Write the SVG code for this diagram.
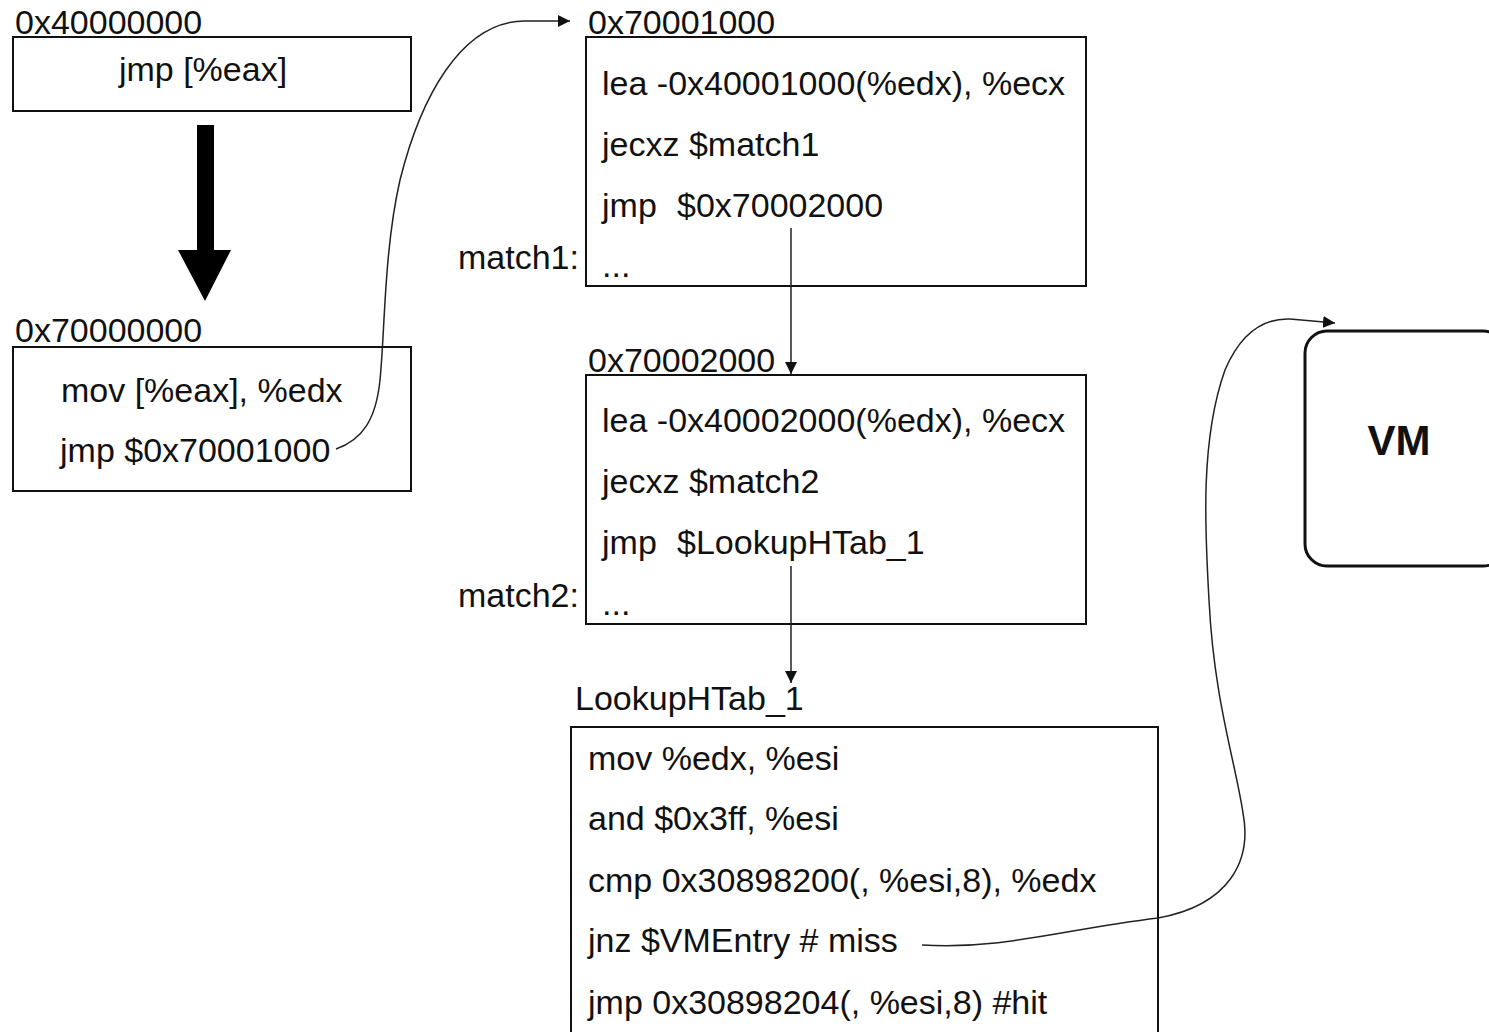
<svg xmlns="http://www.w3.org/2000/svg" width="1489" height="1032" viewBox="0 0 1489 1032">
<defs>
<style>
.box{fill:#fff;stroke:#111;stroke-width:2}
.t{font-family:"Liberation Sans",Arial,sans-serif;font-size:34px;fill:#111}
.vm{font-family:"Liberation Sans",Arial,sans-serif;font-size:42px;font-weight:bold;fill:#111}
.c{fill:none;stroke:#222;stroke-width:1.5}
</style>
<marker id="ah" viewBox="0 0 10 10" refX="10" refY="5" markerWidth="12" markerHeight="12" markerUnits="userSpaceOnUse" orient="auto">
<path d="M0,0 L10,5 L0,10 z" fill="#111"/>
</marker>
</defs>
<rect width="1489" height="1032" fill="#fff"/>

<g id="node-0x40000000">
<text class="t" x="15" y="34">0x40000000</text>
<rect class="box" x="13" y="37" width="398" height="74"/>
<text class="t" x="203" y="81" text-anchor="middle">jmp [%eax]</text>
</g>

<g id="node-0x70000000">
<text class="t" x="15" y="342">0x70000000</text>
<rect class="box" x="13" y="347" width="398" height="144"/>
<text class="t" x="61" y="402">mov [%eax], %edx</text>
<text class="t" x="60" y="462">jmp $0x70001000</text>
</g>

<g id="node-0x70001000">
<text class="t" x="588" y="34">0x70001000</text>
<rect class="box" x="586" y="37" width="500" height="249"/>
<text class="t" x="602" y="95">lea -0x40001000(%edx), %ecx</text>
<text class="t" x="602" y="156">jecxz $match1</text>
<text class="t" x="602" y="217">jmp <tspan x="677">$0x70002000</tspan></text>
<text class="t" x="602" y="277">...</text>
<text class="t" x="458" y="269">match1:</text>
</g>

<g id="node-0x70002000">
<text class="t" x="588" y="372">0x70002000</text>
<rect class="box" x="586" y="375" width="500" height="249"/>
<text class="t" x="602" y="432">lea -0x40002000(%edx), %ecx</text>
<text class="t" x="602" y="493">jecxz $match2</text>
<text class="t" x="602" y="554">jmp <tspan x="677">$LookupHTab_1</tspan></text>
<text class="t" x="602" y="615">...</text>
<text class="t" x="458" y="607">match2:</text>
</g>

<g id="node-LookupHTab_1">
<text class="t" x="575" y="710">LookupHTab_1</text>
<rect class="box" x="571" y="727" width="587" height="320"/>
<text class="t" x="588" y="770">mov %edx, %esi</text>
<text class="t" x="588" y="830">and $0x3ff, %esi</text>
<text class="t" x="588" y="892">cmp 0x30898200(, %esi,8), %edx</text>
<text class="t" x="588" y="952">jnz $VMEntry # miss</text>
<text class="t" x="588" y="1014">jmp 0x30898204(, %esi,8) #hit</text>
</g>

<g id="node-VM">
<rect class="box" x="1305" y="331" width="200" height="235" rx="22" ry="22" style="stroke-width:3"/>
<text class="vm" x="1399" y="455" text-anchor="middle">VM</text>
</g>

<g id="connectors">
<polygon points="197,125 214,125 214,250 231,250 205,301 178,250 197,250" fill="#000"/>
<path class="c" d="M 336 449 C 362 440, 376 420, 380 380 C 385 330, 384 250, 400 180 C 420 100, 460 21, 525 21 L 570 21" marker-end="url(#ah)"/>
<path class="c" d="M 791 228 L 791 374" marker-end="url(#ah)"/>
<path class="c" d="M 791 566 L 791 683" marker-end="url(#ah)"/>
<path class="c" d="M 922 945 C 1000 950, 1060 930, 1158 918 C 1230 905, 1252 860, 1243 813 C 1235 760, 1214 700, 1209 600 C 1205 530, 1200 440, 1225 370 C 1240 335, 1262 318, 1290 319 L 1335 323" marker-end="url(#ah)"/>
</g>
</svg>
